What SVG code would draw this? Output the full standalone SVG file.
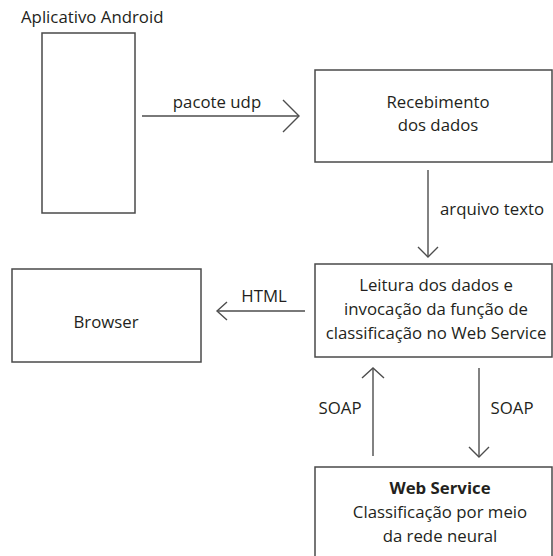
<svg xmlns="http://www.w3.org/2000/svg" width="553" height="556" viewBox="0 0 553 556">
<style>
  .box { fill: #ffffff; stroke: #4a4a4a; stroke-width: 1.5; }
  .t { font-family: "Open Sans", "Noto Sans", sans-serif; font-size: 16.8px; fill: #231f20; }
  .c { text-anchor: middle; }
  .b { font-weight: bold; }
  .ln { fill: none; stroke: #4d4d4d; stroke-width: 1.4; }
</style>
<rect width="553" height="556" fill="#ffffff"/>
<g id="android">
  <text class="t" x="21" y="23">Aplicativo Android</text>
  <rect class="box" x="42" y="33" width="93" height="180"/>
</g>
<g id="recebimento">
  <rect class="box" x="315" y="70" width="237" height="92"/>
  <text class="t c" x="438" y="108">Recebimento</text>
  <text class="t c" x="438" y="131">dos dados</text>
</g>
<g id="leitura">
  <rect class="box" x="315" y="264" width="237" height="93"/>
  <text class="t c" x="436" y="291">Leitura dos dados e</text>
  <text class="t c" x="436" y="315">invocação da função de</text>
  <text class="t c" x="436" y="339">classificação no Web Service</text>
</g>
<g id="browser">
  <rect class="box" x="12" y="269" width="189" height="93"/>
  <text class="t c" x="106" y="328">Browser</text>
</g>
<g id="webservice">
  <rect class="box" x="315" y="467" width="237" height="100"/>
  <text class="t c b" x="440" y="494">Web Service</text>
  <text class="t c" x="440" y="518">Classificação por meio</text>
  <text class="t c" x="440" y="542">da rede neural</text>
</g>
<g id="connectors">
  <line class="ln" x1="142" y1="116" x2="298" y2="116"/>
  <polyline class="ln" points="283,100 299,116 283,132"/>
  <text class="t c" x="217" y="108">pacote udp</text>

  <line class="ln" x1="428" y1="170" x2="428" y2="256"/>
  <polyline class="ln" points="418,247 428,257 438,247"/>
  <text class="t" x="440" y="215">arquivo texto</text>

  <line class="ln" x1="305" y1="311" x2="218" y2="311"/>
  <polyline class="ln" points="227,302 217,311 227,320"/>
  <text class="t c" x="264" y="302">HTML</text>

  <line class="ln" x1="373" y1="456" x2="373" y2="369"/>
  <polyline class="ln" points="362,378 373,368 384,378"/>
  <text class="t c" x="340" y="414">SOAP</text>

  <line class="ln" x1="479" y1="368" x2="479" y2="456"/>
  <polyline class="ln" points="469,447 479,457 489,447"/>
  <text class="t c" x="512" y="414">SOAP</text>
</g>
</svg>
